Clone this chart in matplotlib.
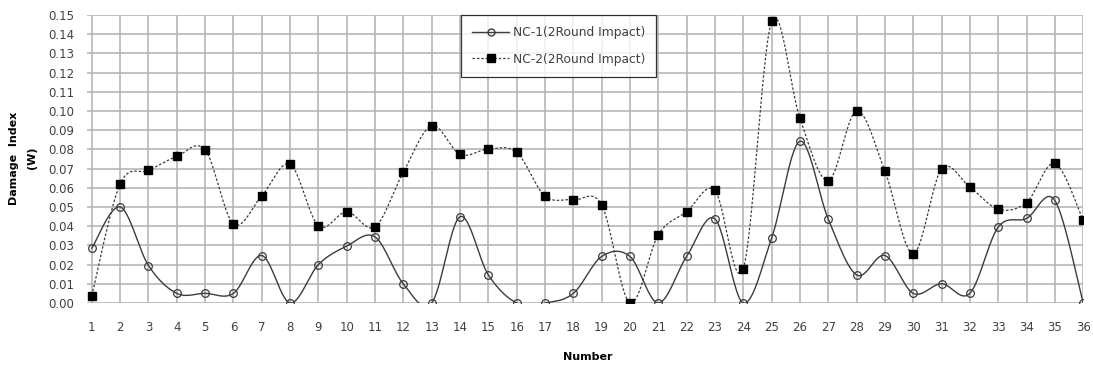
import numpy as np
import matplotlib
matplotlib.use("Agg")
import matplotlib.pyplot as plt

# data
number = list(range(1, 37))
nc1 = [0.0285, 0.050, 0.0195, 0.005, 0.005, 0.005, 0.0247, 0.0, 0.020, 0.0296,
       0.0344, 0.0099, 0.0, 0.0449, 0.0146, 0.0, 0.0, 0.005, 0.0242, 0.0242,
       0.0, 0.0242, 0.0438, 0.0, 0.0337, 0.0842, 0.0437, 0.0146, 0.0247, 0.005,
       0.010, 0.005, 0.0395, 0.044, 0.0534, 0.0]
nc2 = [0.0038, 0.062, 0.069, 0.0763, 0.0797, 0.0412, 0.0558, 0.0722, 0.0402, 0.0475,
       0.0397, 0.0682, 0.0923, 0.0774, 0.0802, 0.0784, 0.0557, 0.0537, 0.0511, 0.0,
       0.0355, 0.0475, 0.0586, 0.0179, 0.1466, 0.0962, 0.0637, 0.100, 0.0687, 0.0257,
       0.0697, 0.0603, 0.0489, 0.0523, 0.0727, 0.0431]
labels = ["NC-1(2Round Impact)", "NC-2(2Round Impact)"]


def smooth(x, y, n=30):
    """Excel-like smoothed line: cubic bezier through the points."""
    x = np.asarray(x, float)
    y = np.asarray(y, float)
    px = np.concatenate([[x[0]], x, [x[-1]]])
    py = np.concatenate([[y[0]], y, [y[-1]]])
    t = np.linspace(0, 1, n)
    xs, ys = [], []
    for i in range(1, len(px) - 2):
        p0 = np.array([px[i], py[i]])
        p3 = np.array([px[i + 1], py[i + 1]])
        c1 = p0 + (p3 - np.array([px[i - 1], py[i - 1]])) / 6
        c2 = p3 - (np.array([px[i + 2], py[i + 2]]) - p0) / 6
        b = ((1 - t) ** 3)[:, None] * p0 + (3 * (1 - t) ** 2 * t)[:, None] * c1 \
            + (3 * (1 - t) * t ** 2)[:, None] * c2 + (t ** 3)[:, None] * p3
        xs.append(b[:, 0])
        ys.append(b[:, 1])
    return np.concatenate(xs), np.concatenate(ys)


fig = plt.figure(figsize=(10.93, 3.65), dpi=100)
ax = fig.add_axes([0.0796, 0.170, 0.9114, 0.789])

line_col = "#3c3c3c"
sx, sy = smooth(number, nc1)
ax.plot(sx, sy, color=line_col, lw=1.0, zorder=3)
ax.plot(number, nc1, ls="none", marker="o", ms=5.5, mfc="none", mec=line_col, mew=0.9, zorder=4)
sx, sy = smooth(number, nc2)
ax.plot(sx, sy, color=line_col, lw=0.9, ls=(0, (2, 1.5)), zorder=3)
ax.plot(number, nc2, ls="none", marker="s", ms=6, mfc="black", mec="black", zorder=4)

ax.set_xlim(0.83, 36)
ax.set_ylim(0, 0.15)
ax.set_xticks(number)
ax.set_yticks(np.arange(0, 0.151, 0.01))
ax.set_yticklabels([f"{v:.2f}" for v in np.arange(0, 0.151, 0.01)])
ax.grid(True, color="#b0b0b0", lw=1.1)
ax.set_axisbelow(True)
for s in ax.spines.values():
    s.set_visible(False)
ax.tick_params(length=0, labelsize=8.5, colors="#404040")
ax.tick_params(axis="x", pad=13)
ax.tick_params(axis="y", pad=9)

fig.text(0.021, 0.567, "Damage  Index\n(W)", rotation=90, ha="center", va="center",
         fontsize=8, fontweight="bold", multialignment="center", linespacing=1.9)
fig.text(0.538, 0.022, "Number", ha="center", va="center", fontsize=8, fontweight="bold")

h1 = plt.Line2D([], [], color=line_col, lw=1.0, marker="o", ms=5, mfc="none", mec=line_col)
h2 = plt.Line2D([], [], color=line_col, lw=0.9, ls=(0, (2, 1.5)), marker="s", ms=6, mfc="black", mec="black")
leg = fig.legend([h1, h2], labels, loc="upper left", bbox_to_anchor=(0.422, 0.958),
                 fontsize=8.8, frameon=True, fancybox=False, edgecolor="black",
                 handlelength=3.0, labelspacing=1.1, borderpad=0.9, borderaxespad=0,
                 handletextpad=0.3)
leg.get_frame().set_linewidth(0.9)
for t in leg.get_texts():
    t.set_color("#404040")

fig.savefig("out.png", dpi=100)
